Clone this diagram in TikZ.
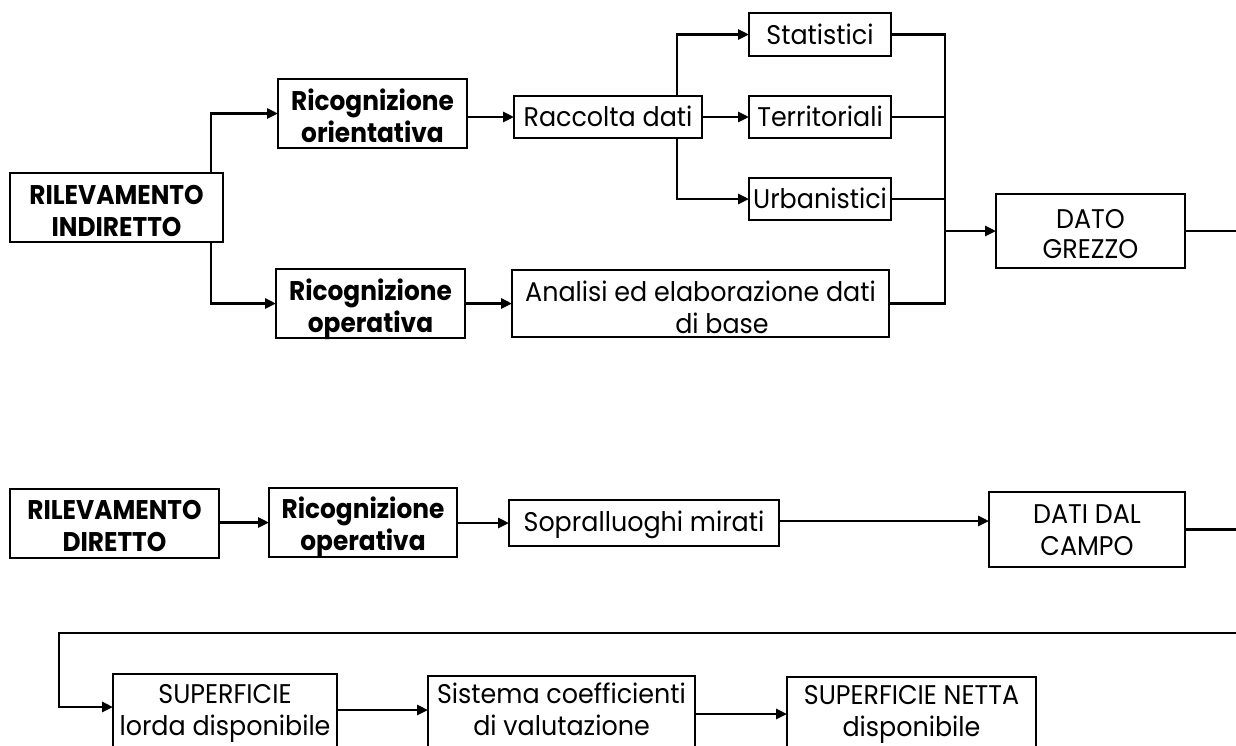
\documentclass[tikz,border=0pt]{standalone}
\usepackage{fontspec}
\setmainfont{Poppins}[FakeStretch=0.94, BoldFeatures={FakeStretch=0.92}]
\usetikzlibrary{arrows.meta}
\newcommand{\fs}{\fontsize{27}{32}\selectfont}
\begin{document}
\begin{tikzpicture}[x=1pt,y=-1pt,
  box/.style={draw, line width=2.8pt, inner sep=0pt, outer sep=0pt},
  txt/.style={font=\fs, align=center, anchor=base, inner sep=0pt},
  btxt/.style={txt, font=\fs\bfseries},
  ln/.style={line width=2.8pt},
  arr/.style={ln, -{Triangle[length=11pt,width=10pt]}}]
\clip (0,0) rectangle (1236,745);
\fill[white] (0,0) rectangle (1236,745);
% boxes
\node[box, minimum width=213pt, minimum height=69pt] (ri) at (116.5,207.5) {};
\node[box, minimum width=189pt, minimum height=69pt] (ro) at (372.5,113.5) {};
\node[box, minimum width=188pt, minimum height=42pt] (rd) at (608,117) {};
\node[box, minimum width=142pt, minimum height=43pt] (st) at (820,34.5) {};
\node[box, minimum width=142pt, minimum height=42pt] (te) at (820,117) {};
\node[box, minimum width=142pt, minimum height=42pt] (ur) at (820,199) {};
\node[box, minimum width=189pt, minimum height=69pt] (rop) at (370.5,303.5) {};
\node[box, minimum width=377pt, minimum height=67pt] (an) at (700.5,303.5) {};
\node[box, minimum width=189pt, minimum height=74pt] (dg) at (1090.5,231) {};
\node[box, minimum width=209pt, minimum height=69pt] (rdir) at (114.5,523.5) {};
\node[box, minimum width=188pt, minimum height=69pt] (rop2) at (363,522.5) {};
\node[box, minimum width=270pt, minimum height=46pt] (so) at (644,523) {};
\node[box, minimum width=196pt, minimum height=75pt] (dc) at (1087,529.5) {};
\node[box, minimum width=224pt, minimum height=101pt] (sl) at (225,724.5) {};
\node[box, minimum width=267pt, minimum height=100pt] (sc) at (561.5,726) {};
\node[box, minimum width=249pt, minimum height=100pt] (sn) at (911.5,727) {};
% texts (base anchor = baseline of the last line)
\node[btxt] (tri) at (116.5,236.7) {RILEVAMENTO\\INDIRETTO};
\node[btxt] (tro) at (372.5,142.7) {Ricognizione\\orientativa};
\node[txt] (trd) at (608,126.7) {Raccolta dati};
\node[txt] (tst) at (820,44.3) {Statistici};
\node[txt] (tte) at (820,126.7) {Territoriali};
\node[txt] (tur) at (820,208) {Urbanistici};
\node[btxt] (trop) at (370.5,332) {Ricognizione\\operativa};
\node[txt] (tan) at (700.5,301) {Analisi ed elaborazione dati};
\node[txt] (tan2) at (722,333) {di base};
\node[txt, font=\fontsize{27}{30}\selectfont] (tdg) at (1090.5,258.3) {DATO\\GREZZO};
\node[btxt] (trdir) at (114.5,551.7) {RILEVAMENTO\\DIRETTO};
\node[btxt] (trop2) at (363,550) {Ricognizione\\operativa};
\node[txt] (tso) at (644,531) {Sopralluoghi mirati};
\node[txt] (tdc) at (1087,555) {DATI DAL\\CAMPO};
\node[txt] (tsl) at (225,735.5) {SUPERFICIE\\lorda disponibile};
\node[txt] (tsc) at (561.5,735.5) {Sistema coefficienti\\di valutazione};
\node[txt] (tsn) at (911.5,736) {SUPERFICIE NETTA\\disponibile};
% helper coordinates
\coordinate (xa) at (211,0);
\coordinate (xb) at (677,0);
\coordinate (jn) at (945,231);
\coordinate (rim) at (1250,0);
\coordinate (lp) at (59,633);
\coordinate (la) at (59,707);
\coordinate (lb) at (0,710);
\coordinate (lc) at (0,714);
% connectors upper part
\draw[arr] (ri.north -| xa) |- (ro.west);
\draw[arr] (ri.south -| xa) |- (rop.west);
\draw[arr] (ro.east |- rd.west) -- (rd.west);
\draw[arr] (rd.north -| xb) |- (st.west);
\draw[arr] (rd.east) -- (te.west);
\draw[arr] (rd.south -| xb) |- (ur.west);
\draw[arr] (rop.east) -- (an.west);
\draw[ln] (st.east) -| (jn);
\draw[ln] (te.east) -| (jn);
\draw[ln] (ur.east) -| (jn);
\draw[ln] (an.east) -| (jn);
\draw[arr] (jn) -- (dg.west);
\draw[ln] (dg.east) -- (dg.east -| rim);
% connectors middle part
\draw[arr] (rdir.east |- rop2.west) -- (rop2.west);
\draw[arr] (rop2.east |- so.west) -- (so.west);
\draw[arr] (so.east |- 0,521) -- (dc.west |- 0,521);
\draw[ln] (dc.east) -- (dc.east -| rim);
% connectors lower part
\draw[arr] (rim |- lp) -- (lp) -- (la) -- (la -| sl.west);
\draw[arr] (sl.east |- lb) -- (sc.west |- lb);
\draw[arr] (sc.east |- lc) -- (sn.west |- lc);
\end{tikzpicture}
\end{document}
